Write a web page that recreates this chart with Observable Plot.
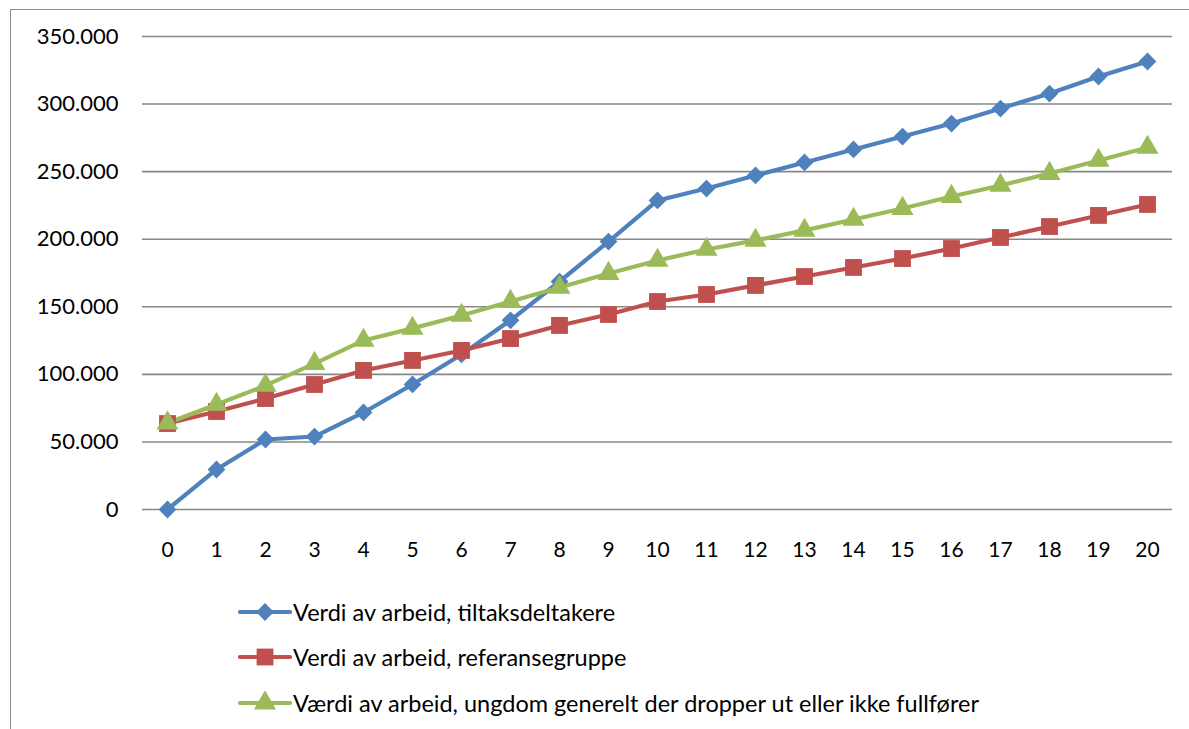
<!DOCTYPE html>
<html>
<head>
<meta charset="utf-8">
<script src="https://cdn.jsdelivr.net/npm/d3@7"></script>
<script src="https://cdn.jsdelivr.net/npm/@observablehq/plot@0.6"></script>
<style>
  html, body { margin: 0; padding: 0; background: #fff; overflow: hidden; }
  #frame { position: absolute; left: 10px; top: 9px; width: 1300px; height: 900px;
           border-left: 1.5px solid #8c8c8c; border-top: 1.5px solid #8c8c8c; }
  #chart { position: absolute; left: 0; top: 0; }
  #legend { position: absolute; left: 238px; top: 589px; font-family: Lato, "Open Sans", sans-serif;
            font-size: 23.5px; color: #000; }
  .item { display: flex; align-items: center; height: 45.5px; }
  .item svg { margin-right: 1px; }
  #chart svg g[aria-label="y-axis tick label"] text { font-size: 22px; }
</style>
</head>
<body>
<div id="frame"></div>
<div id="chart"></div>
<div id="legend"></div>
<script>
const years = [0,1,2,3,4,5,6,7,8,9,10,11,12,13,14,15,16,17,18,19,20];
const seriesNames = [
  "Verdi av arbeid, tiltaksdeltakere",
  "Verdi av arbeid, referansegruppe",
  "Værdi av arbeid, ungdom generelt der dropper ut eller ikke fullfører"
];
const tiltaksdeltakere = [0, 29600, 51800, 54000, 71800, 92500, 114700, 140000, 168700, 198300, 228700, 237500, 247200, 256800, 266400, 276000, 285600, 296700, 307800, 320400, 331500];
const referansegruppe = [63600, 72500, 82100, 92500, 102900, 110300, 117700, 126500, 136200, 144300, 153900, 159100, 165800, 172400, 179100, 185700, 193100, 201300, 209400, 217600, 225700];
const ungdomGenerelt = [64000, 77700, 91800, 108000, 125100, 134000, 143600, 153900, 164300, 174600, 184300, 192400, 199100, 206500, 214600, 222700, 231600, 239800, 248600, 258300, 267900];
const yTicks = [0, 50000, 100000, 150000, 200000, 250000, 300000, 350000];
const colors = ["#4F81BD", "#C0504D", "#9BBB59"];
const symbols = ["diamond2", "square", "triangle"];
const radii = [8, 9.5, 8.2];

const seriesValues = [tiltaksdeltakere, referansegruppe, ungdomGenerelt];
const data = seriesValues.flatMap((vals, s) => years.map((yr, i) => ({year: yr, value: vals[i], series: seriesNames[s]})));

const loc = d3.formatLocale({decimal: ",", thousands: ".", grouping: [3], currency: ["", ""]});
const fmt = loc.format(",");

const marks = [
  Plot.ruleY(yTicks, {stroke: "#888", strokeWidth: 1.6}),
];
seriesNames.forEach((name, s) => {
  marks.push(Plot.line(data.filter(d => d.series === name), {x: "year", y: "value", stroke: colors[s], strokeWidth: 4.2}));
});
seriesNames.forEach((name, s) => {
  marks.push(Plot.dot(data.filter(d => d.series === name), {x: "year", y: "value", symbol: () => symbols[s], fill: colors[s], r: radii[s], stroke: "none"}));
});

const chart = Plot.plot({
  width: 1189,
  height: 575,
  marginLeft: 142,
  marginRight: 17,
  marginTop: 36,
  marginBottom: 66,
  style: {fontFamily: "Lato, 'Open Sans', sans-serif", fontSize: "21px", color: "#000", background: "transparent"},
  x: {type: "point", domain: years, padding: 0.5, label: null, tickSize: 0, tickPadding: 33},
  y: {domain: [0, 350000], ticks: yTicks, tickFormat: fmt, label: null, tickSize: 0, tickPadding: 24},
  symbol: {type: "identity"},
  marks
});
document.getElementById("chart").appendChild(chart);

const legend = document.getElementById("legend");
seriesNames.forEach((name, s) => {
  const item = document.createElement("div");
  item.className = "item";
  const svg = d3.create("svg").attr("width", 54).attr("height", 24);
  svg.append("line").attr("x1", 2).attr("x2", 52).attr("y1", 12).attr("y2", 12)
     .attr("stroke", colors[s]).attr("stroke-width", 4.2).attr("stroke-linecap", "round");
  const sym = [d3.symbolDiamond2, d3.symbolSquare, d3.symbolTriangle][s];
  svg.append("path").attr("d", d3.symbol(sym, Math.PI * radii[s] * radii[s])()).attr("transform", "translate(27,12)").attr("fill", colors[s]);
  item.appendChild(svg.node());
  const span = document.createElement("span");
  span.textContent = name;
  item.appendChild(span);
  legend.appendChild(item);
});
</script>
</body>
</html>
